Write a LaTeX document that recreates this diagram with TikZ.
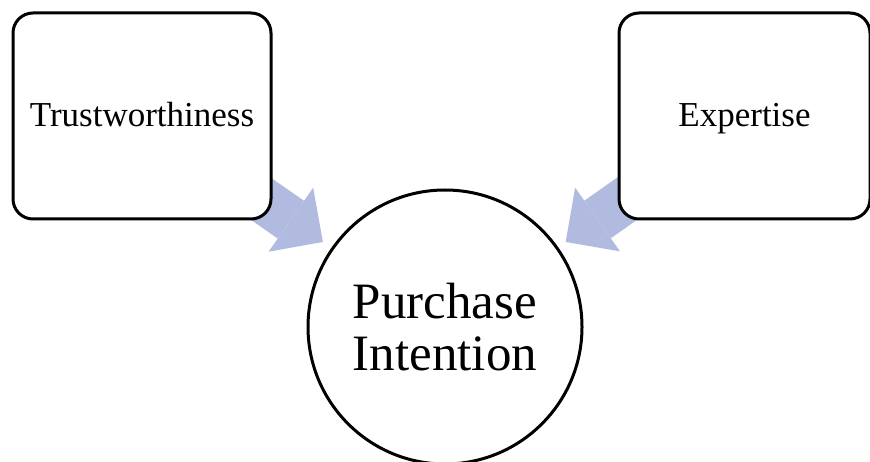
\documentclass[tikz,border=0pt]{standalone}
\usepackage{fontspec}
\setmainfont{Liberation Serif}
\usepackage{tikz}
\usetikzlibrary{arrows.meta,positioning,calc,backgrounds}
\definecolor{flowblue}{HTML}{B0BBDF}
\tikzstyle{factor} = [rectangle, draw=black, line width=3pt, rounded corners=20pt,
    fill=white, minimum width=258pt, minimum height=206pt, align=center,
    text height=24pt, text depth=2pt, font=\fontsize{35}{40}\selectfont]
\tikzstyle{outcome} = [circle, draw=black, line width=3pt, fill=white,
    minimum size=274pt, inner sep=0pt, align=center, font=\fontsize{51}{52}\selectfont]
\tikzstyle{flow} = [-{Triangle[width=78pt,length=39pt,line width=0pt]}, line width=46pt, flowblue]

\begin{document}
\begin{tikzpicture}[x=1pt,y=-1pt]
\useasboundingbox (0,0) rectangle (870,462);
\node[factor] (trust) at (142,116) {Trustworthiness};
\node[factor, minimum width=251pt, right=345pt of trust] (expert) {Expertise};
\node[outcome] (purchase) at (445,327) {Purchase\\Intention};

\begin{scope}[on background layer]
\draw[flow] ($(trust)!0.35!(purchase)$) -- ($(trust)!0.597!(purchase)$);
\draw[flow] ($(expert)!0.35!(purchase)$) -- ($(expert)!0.597!(purchase)$);
\end{scope}
\end{tikzpicture}
\end{document}
